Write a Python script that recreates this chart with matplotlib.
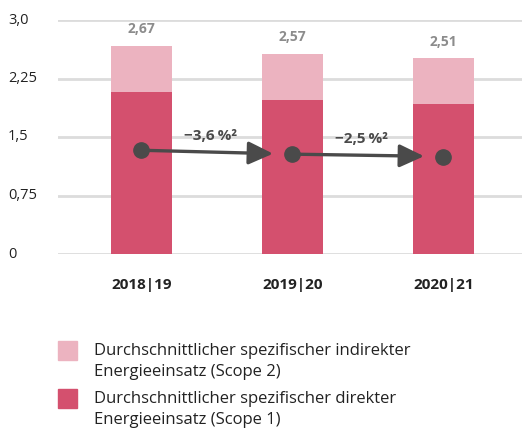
import matplotlib
matplotlib.use("Agg")
import matplotlib.pyplot as plt
import matplotlib.patches as mpatches

plt.rcParams["font.family"] = ["Open Sans", "DejaVu Sans"]

years = ["2018|19", "2019|20", "2020|21"]
scope1 = [2.08, 1.97, 1.92]          # direkter Energieeinsatz
totals = [2.67, 2.57, 2.51]          # Summe Scope 1 + Scope 2
total_labels = ["2,67", "2,57", "2,51"]
trend = [1.33, 1.28, 1.25]           # Punkte der Entwicklung
trend_labels = ["\u22123,6\u2009%\u00b2", "\u22122,5\u2009%\u00b2"]
yticks = [0, 0.75, 1.5, 2.25, 3.0]
ytick_labels = ["0", "0,75", "1,5", "2,25", "3,0"]

scope2 = [t - s for t, s in zip(totals, scope1)]

DARK = "#d4506e"
LIGHT = "#ecb3c0"
GREY = "#4a4a4a"

fig = plt.figure(figsize=(5.22, 4.28), dpi=100)
ax = fig.add_axes([58 / 522, 1 - 254 / 428, 1 - 58 / 522, (254 - 20) / 428])

x = list(range(len(years)))
ax.bar(x, scope1, width=0.404, color=DARK, zorder=2)
ax.bar(x, scope2, width=0.404, bottom=scope1, color=LIGHT, zorder=2)

for xi, tot, lab in zip(x, totals, total_labels):
    ax.annotate(lab, (xi, tot), xytext=(0, 12), textcoords="offset points",
                ha="center", va="center", fontsize=10, fontweight="bold",
                color="#8c8c8c")

for i in range(len(trend) - 1):
    ax.annotate("", xy=(x[i + 1], trend[i + 1]), xytext=(x[i], trend[i]),
                arrowprops=dict(arrowstyle="-|>,head_length=1.5,head_width=0.7",
                                color=GREY, lw=2.4, shrinkA=0, shrinkB=14),
                zorder=4)
    ax.text(x[i] + 0.46, (trend[i] + trend[i + 1]) / 2 + 0.21, trend_labels[i],
            ha="center", va="center", fontsize=11, fontweight="bold",
            color=GREY, zorder=5)

ax.plot(x, trend, "o", color=GREY, markersize=11, zorder=5)

ax.set_xlim(-0.553, 2.52)
ax.set_ylim(0, 3.0)
ax.set_yticks(yticks)
ax.set_yticklabels([])
for yv, lab in zip(yticks, ytick_labels):
    ax.text(8 / 522, ax.transData.transform((0, yv))[1] / fig.bbox.height,
            lab, transform=fig.transFigure, ha="left", va="center",
            fontsize=10.5, color="#222222")
ax.grid(axis="y", color="#dcdcdc", lw=2, zorder=0)
ax.set_xticks(x)
ax.set_xticklabels(years, fontsize=11, fontweight="bold", color="#222222")
ax.tick_params(length=0, pad=17)
for s in ax.spines.values():
    s.set_visible(False)

# Legende
legend_items = [
    (LIGHT, "Durchschnittlicher spezifischer indirekter\nEnergieeinsatz (Scope 2)", 341),
    (DARK, "Durchschnittlicher spezifischer direkter\nEnergieeinsatz (Scope 1)", 389),
]
for col, txt, top in legend_items:
    fig.patches.append(mpatches.Rectangle((58 / 522, 1 - (top + 19) / 428),
                                          19 / 522, 19 / 428,
                                          transform=fig.transFigure,
                                          color=col))
    fig.text(94 / 522, 1 - (top + 2) / 428, txt, ha="left", va="top",
             fontsize=12, color="#222222", linespacing=1.45)

fig.savefig("out.png", dpi=100)
